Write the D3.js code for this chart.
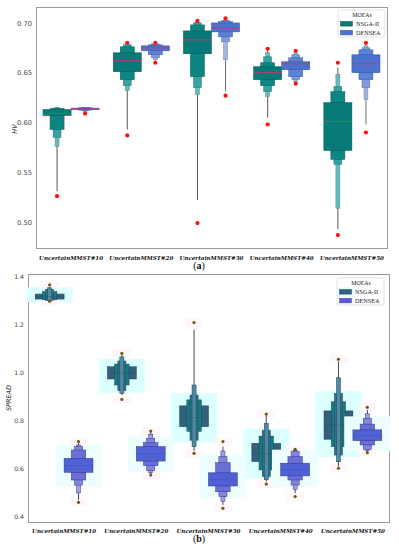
<!DOCTYPE html>
<html><head><meta charset="utf-8">
<script src="https://cdn.jsdelivr.net/npm/d3@7"></script>
<style>body{margin:0;background:#fff}svg{display:block}</style>
</head><body><svg id="c" width="399" height="550"></svg>
<script>
const categories = ["UncertainMMST#10","UncertainMMST#20","UncertainMMST#30","UncertainMMST#40","UncertainMMST#50"];
const seriesNames = ["NSGA-II","DENSEA"];
const hvTicks = [0.50,0.55,0.60,0.65,0.70];
const spreadTicks = [0.4,0.6,0.8,1.0,1.2,1.4];

// HV panel (a): letter values, inner -> outer
const hvNsgaMedian = [0.609,0.662,0.683,0.650,0.601];
const hvNsgaLower = [[0.607,0.593,0.585,0.576,0.531],[0.651,0.643,0.637,0.632,0.593],[0.669,0.646,0.635,0.628,0.522],[0.643,0.637,0.631,0.626,0.605],[0.572,0.563,0.558,0.514,0.493]];
const hvNsgaUpper = [[0.613,0.614,0.6145,0.615,0.6155],[0.670,0.676,0.678,0.679,0.6795],[0.692,0.698,0.700,0.701,0.7015],[0.656,0.660,0.666,0.670,0.672],[0.620,0.631,0.636,0.648,0.655]];
const hvNsgaOutliers = [[0.526],[0.680,0.587],[0.702,0.499],[0.674,0.598],[0.660,0.487]];

const hvDenseaMedian = [0.6137,0.675,0.695,0.659,0.659];
const hvDenseaLower = [[0.6130,0.6125,0.612,0.611,0.6105],[0.672,0.668,0.665,0.663,0.662],[0.691,0.686,0.681,0.663,0.631],[0.653,0.646,0.643,0.641,0.641],[0.650,0.643,0.635,0.623,0.598]];
const hvDenseaUpper = [[0.6145,0.6148,0.615,0.615,0.615],[0.677,0.678,0.679,0.679,0.6795],[0.700,0.7015,0.7025,0.703,0.7035],[0.661,0.665,0.668,0.670,0.671],[0.668,0.673,0.675,0.677,0.678]];
const hvDenseaOutliers = [[0.609],[0.680,0.660],[0.7045,0.627],[0.672,0.639],[0.680,0.590]];

// SPREAD panel (b)
const spNsgaMedian = [1.318,1.000,0.815,0.665,0.783];
const spNsgaLower = [[1.308,1.305,1.303,1.302,1.301],[0.975,0.950,0.926,0.915,0.908],[0.776,0.757,0.720,0.693,0.675],[0.631,0.596,0.568,0.555,0.547],[0.724,0.693,0.658,0.630,0.610]];
const spNsgaUpper = [[1.329,1.339,1.349,1.355,1.358],[1.026,1.037,1.050,1.067,1.075],[0.863,0.888,0.908,0.950,1.180],[0.707,0.737,0.760,0.790,0.825],[0.842,0.880,0.915,0.980,1.047]];
const spNsgaOutliers = [[1.367,1.299],[1.082,0.890],[1.210,0.665],[0.829,0.537],[1.057,0.603]];

const spDenseaMedian = [0.615,0.665,0.555,0.595,0.740];
const spDenseaLower = [[0.586,0.554,0.533,0.500,0.471],[0.633,0.614,0.593,0.585,0.579],[0.529,0.505,0.485,0.465,0.450],[0.571,0.554,0.533,0.515,0.499],[0.718,0.700,0.682,0.676,0.672]];
const spDenseaUpper = [[0.644,0.679,0.693,0.700,0.710],[0.693,0.710,0.728,0.745,0.755],[0.584,0.626,0.651,0.675,0.693],[0.624,0.651,0.672,0.677,0.680],[0.763,0.787,0.811,0.830,0.846]];
const spDenseaOutliers = [[0.714,0.461],[0.758,0.575],[0.714,0.436],[0.682,0.485],[0.857,0.668]];

const svg = d3.select("#c");
const levelWidths = [1, 0.5, 0.28, 0.14];

function panel(cfg) {
  const g = svg.append("g");
  const x = d3.scaleBand().domain(categories).range([cfg.x0, cfg.x1]).padding(0);
  const y = d3.scaleLinear().domain(cfg.domain).range([cfg.y1, cfg.y0]);
  const bw = x.bandwidth();

  g.append("rect").attr("x", cfg.x0 + 0.5).attr("y", cfg.y0 + 0.5)
    .attr("width", cfg.x1 - cfg.x0).attr("height", cfg.y1 - cfg.y0)
    .attr("fill", "none").attr("stroke", "#9a9a9a").attr("stroke-width", 1);

  const ax = g.append("g").attr("transform", `translate(${cfg.x0},0)`)
    .call(d3.axisLeft(y).tickValues(cfg.ticks).tickFormat(cfg.fmt).tickSize(0).tickPadding(4));
  ax.select(".domain").remove();
  ax.selectAll("text").attr("font-family", "DejaVu Sans").attr("font-size", cfg.tickSize).attr("fill", "#444");

  const xa = g.append("g").attr("transform", `translate(0,${cfg.y1})`)
    .call(d3.axisBottom(x).tickSize(0).tickPadding(cfg.xPad));
  xa.select(".domain").remove();
  xa.selectAll("text").attr("font-family", "DejaVu Serif").attr("font-weight", "bold")
    .attr("font-style", "italic").attr("font-size", 7).attr("fill", "#111")
    .each(function () {
      const len = this.getComputedTextLength();
      const fs = 7 * 64 / len;
      d3.select(this).attr("font-size", fs.toFixed(2));
    });

  g.append("text").attr("transform", `translate(${cfg.ylx},${cfg.yly}) rotate(-90)`)
    .attr("text-anchor", "middle").attr("font-family", "DejaVu Sans").attr("font-style", "italic")
    .attr("font-size", 6.5).attr("fill", "#222").text(cfg.ylabel);

  cfg.series.forEach((s, si) => {
    categories.forEach((c, ci) => {
      const cx = x(c) + bw / 2 + (si === 0 ? -1 : 1) * bw * 0.2;
      const full = bw * 0.4;
      const lo = s.lower[ci], hi = s.upper[ci];
      if (s.halo) {
        g.append("rect").attr("x", cx - full * s.haloW / 2).attr("width", full * s.haloW)
          .attr("y", y(hi[2]) - 2).attr("height", y(lo[2]) - y(hi[2]) + 4)
          .attr("fill", s.halo);
      }
      if (s.dotHalo) {
        s.outliers[ci].forEach(v => {
          g.append("rect").attr("x", cx - 9).attr("width", 18).attr("y", y(v) - 4).attr("height", 8)
            .attr("fill", s.dotHalo);
        });
      }
      g.append("line").attr("x1", cx).attr("x2", cx).attr("y1", y(hi[4])).attr("y2", y(lo[4]))
        .attr("stroke", s.tail).attr("stroke-width", 1);
      const order = s.wideFirst ? [0, 1, 2, 3] : [3, 2, 1, 0];
      order.forEach(k => {
        const w = full * levelWidths[k];
        const col = s.colors[k];
        g.append("rect").attr("x", cx - w / 2).attr("width", w)
          .attr("y", y(hi[k])).attr("height", Math.max(0.8, y(lo[k]) - y(hi[k])))
          .attr("fill", col).attr("stroke", s.edge || d3.color(col).darker(0.9)).attr("stroke-width", 0.5);
      });
      g.append("line").attr("x1", cx - full / 2).attr("x2", cx + full / 2)
        .attr("y1", y(s.median[ci])).attr("y2", y(s.median[ci]))
        .attr("stroke", s.medianColor).attr("stroke-width", s.medianW).attr("opacity", s.medianOp || 1);
      s.outliers[ci].forEach(v => {
        g.append("circle").attr("cx", cx).attr("cy", y(v)).attr("r", s.dotR).attr("fill", s.dot);
      });
    });
  });

  const L = cfg.legend;
  const lg = g.append("g");
  lg.append("rect").attr("x", L.x).attr("y", L.y).attr("width", 47).attr("height", 27).attr("rx", 1.5)
    .attr("fill", "#fff").attr("stroke", "#dcdcdc").attr("stroke-width", 0.8);
  lg.append("text").attr("x", L.x + 24).attr("y", L.y + 7).attr("text-anchor", "middle")
    .attr("font-family", "Liberation Serif").attr("font-size", 5.8).attr("fill", "#222").text("MOEAs");
  seriesNames.forEach((n, i) => {
    const yy = L.y + 11.5 + i * 8.8;
    if (L.halo && i === 0) lg.append("rect").attr("x", L.x + 1).attr("y", yy - 2).attr("width", 16).attr("height", 9).attr("fill", L.halo);
    lg.append("rect").attr("x", L.x + 2.5).attr("y", yy).attr("width", 12).attr("height", 4.6)
      .attr("fill", L.colors[i]).attr("stroke", d3.color(L.colors[i]).darker(0.8)).attr("stroke-width", 0.5);
    lg.append("text").attr("x", L.x + 18).attr("y", yy + 4.4).attr("font-family", "Liberation Serif")
      .attr("font-size", 6.2).attr("fill", "#222").text(n);
  });

  svg.append("text").attr("x", 199).attr("y", cfg.tagY).attr("text-anchor", "middle")
    .attr("font-family", "Liberation Serif").attr("font-size", 10).attr("fill", "#111")
    .html(`(<tspan font-weight="bold">${cfg.tag}</tspan>)`);
}

const tealA = ["#077a78", "#0d8683", "#34a3a1", "#66bcbb"];
const blueA = ["#4a73cf", "#5b82d6", "#7e9bdd", "#a2b4e2"];

panel({
  x0: 36, x1: 387, y0: 7, y1: 248, domain: [0.474, 0.716], ticks: hvTicks, fmt: d3.format(".2f"),
  tickSize: 6.7, xPad: 8, ylabel: "HV", ylx: 17, yly: 129, tag: "a", tagY: 269,
  legend: { x: 338, y: 10, colors: ["#077a78", "#4a73cf"] },
  series: [
    { median: hvNsgaMedian, lower: hvNsgaLower, upper: hvNsgaUpper, outliers: hvNsgaOutliers, wideFirst: false,
      colors: tealA, tail: "#555", medianColor: "#e0286e", medianW: 1, dot: "#ff1010", dotR: 2.1 },
    { median: hvDenseaMedian, lower: hvDenseaLower, upper: hvDenseaUpper, outliers: hvDenseaOutliers, wideFirst: false,
      colors: blueA, tail: "#6a7080", medianColor: "#d8287a", medianW: 1, dot: "#ff1010", dotR: 2.1 }
  ]
});

panel({
  x0: 28, x1: 389, y0: 274, y1: 522, domain: [0.379, 1.4125], ticks: spreadTicks, fmt: d3.format(".1f"),
  tickSize: 6.2, xPad: 7, ylabel: "SPREAD", ylx: 11, yly: 398, tag: "b", tagY: 542,
  legend: { x: 337, y: 278, colors: ["#355f7c", "#5a5ad2"], halo: "#dcffff" },
  series: [
    { median: spNsgaMedian, lower: spNsgaLower, upper: spNsgaUpper, outliers: spNsgaOutliers, wideFirst: true,
      colors: ["#33607c", "#137f80", "#2f7288", "#4f8aa2"], edge: "#24405a", tail: "#3a4a5a",
      medianColor: "#2a4d66", medianW: 0.7, medianOp: 0.6, dot: "#6b5a12", dotR: 1.6, halo: "#dcffff", haloW: 1.6, dotHalo: "#fff6fa" },
    { median: spDenseaMedian, lower: spDenseaLower, upper: spDenseaUpper, outliers: spDenseaOutliers, wideFirst: false,
      colors: ["#5061d4", "#6a6fd6", "#8486dc", "#a0a0e4"], edge: "#33338a", tail: "#44446a",
      medianColor: "#4040a0", medianW: 0.7, medianOp: 0.5, dot: "#6b5a12", dotR: 1.6, halo: "#eefefe", haloW: 1.6, dotHalo: "#fff6fa" }
  ]
});
</script></body></html>
